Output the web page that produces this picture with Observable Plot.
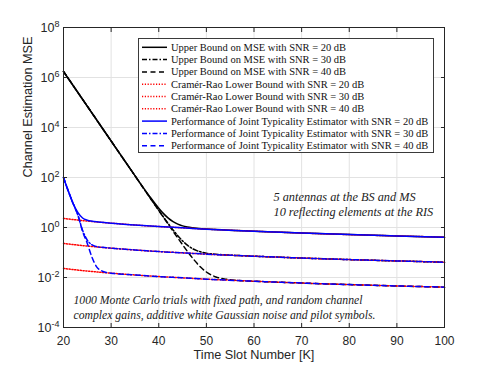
<!DOCTYPE html>
<html><head><meta charset="utf-8">
<script src="https://cdn.jsdelivr.net/npm/d3@7"></script>
<script src="https://cdn.jsdelivr.net/npm/@observablehq/plot@0.6"></script>
<style>body{margin:0;background:#fff;} svg{display:block}</style>
</head><body><div id="chart"></div>
<script>
// ---- data ----
const xTicks = [20, 30, 40, 50, 60, 70, 80, 90, 100];
const yTicks = [1e-4, 1e-2, 1e0, 1e2, 1e4, 1e6, 1e8];

const kUB = [20, 25, 30, 35, 38, 40, 41, 42, 43, 44, 45, 46, 47, 48, 49, 50, 52, 54, 56, 58, 60, 70, 80, 90, 100];
const ub20 = [1.74e6, 70800, 2884, 118.8, 18.4, 5.89, 3.59, 2.37, 1.715, 1.359, 1.161, 1.046, 0.976, 0.930, 0.897, 0.870, 0.829, 0.796, 0.764, 0.736, 0.710, 0.600, 0.520, 0.460, 0.410];
const ub30 = [1.74e6, 70800, 2884, 117.6, 17.3, 4.90, 2.63, 1.434, 0.802, 0.469, 0.292, 0.197, 0.146, 0.119, 0.1033, 0.0941, 0.0849, 0.0801, 0.0766, 0.0736, 0.0710, 0.0600, 0.0520, 0.0460, 0.0410];
const ub40 = [1.74e6, 70800, 2884, 117.5, 17.2, 4.80, 2.53, 1.34, 0.711, 0.380, 0.205, 0.1122, 0.0634, 0.0376, 0.0239, 0.0166, 0.0105, 0.0086, 0.0078, 0.0074, 0.0071, 0.0060, 0.0052, 0.0046, 0.0041];

const kCR = [20, 22, 24, 26, 28, 30, 35, 40, 45, 50, 60, 70, 80, 90, 100];
const crlb20 = [2.30, 2.08, 1.89, 1.74, 1.60, 1.49, 1.26, 1.09, 0.97, 0.86, 0.71, 0.60, 0.52, 0.46, 0.41];
const crlb30 = [0.230, 0.208, 0.189, 0.174, 0.160, 0.149, 0.126, 0.109, 0.097, 0.086, 0.071, 0.060, 0.052, 0.046, 0.041];
const crlb40 = [0.0230, 0.0208, 0.0189, 0.0174, 0.0160, 0.0149, 0.0126, 0.0109, 0.0097, 0.0086, 0.0071, 0.0060, 0.0052, 0.0046, 0.0041];

const kJT = [20, 21, 22, 23, 24, 25, 26, 27, 28, 29, 30, 35, 40, 45, 50, 60, 70, 80, 90, 100];
const jte20 = [100, 29, 9.3, 4.0, 2.4, 1.95, 1.78, 1.68, 1.61, 1.55, 1.49, 1.26, 1.09, 0.97, 0.86, 0.71, 0.60, 0.52, 0.46, 0.41];
const jte30 = [100, 29, 9.3, 3.2, 0.78, 0.31, 0.20, 0.172, 0.161, 0.155, 0.149, 0.126, 0.109, 0.097, 0.086, 0.071, 0.060, 0.052, 0.046, 0.041];
const jte40 = [100, 29, 9.3, 3.2, 0.70, 0.23, 0.063, 0.026, 0.0185, 0.0158, 0.0149, 0.0126, 0.0109, 0.0097, 0.0086, 0.0071, 0.0060, 0.0052, 0.0046, 0.0041];

const seriesNames = [
  "Upper Bound on MSE with SNR = 20 dB",
  "Upper Bound on MSE with SNR = 30 dB",
  "Upper Bound on MSE with SNR = 40 dB",
  "Cramér-Rao Lower Bound with SNR = 20 dB",
  "Cramér-Rao Lower Bound with SNR = 30 dB",
  "Cramér-Rao Lower Bound with SNR = 40 dB",
  "Performance of Joint Typicality Estimator with SNR = 20 dB",
  "Performance of Joint Typicality Estimator with SNR = 30 dB",
  "Performance of Joint Typicality Estimator with SNR = 40 dB"
];
const seriesK = [kUB, kUB, kUB, kCR, kCR, kCR, kJT, kJT, kJT];
const seriesV = [ub20, ub30, ub40, crlb20, crlb30, crlb40, jte20, jte30, jte40];
const seriesColor = ["#000000", "#000000", "#000000", "#ff0000", "#ff0000", "#ff0000", "#0000ff", "#0000ff", "#0000ff"];
const seriesDash = [null, "5,2,1.5,2", "5,3.5", "1.2,1.6", "1.2,1.6", "1.2,1.6", null, "5,2,1.5,2", "5,3.5"];

const xLabel = "Time Slot Number [K]";
const yLabel = "Channel Estimation MSE";
const note1 = "5 antennas at the BS and MS\n10 reflecting elements at the RIS";
const note2 = "1000 Monte Carlo trials with fixed path, and random channel\ncomplex gains, additive white Gaussian noise and pilot symbols.";

// ---- chart ----
const serif = "'Liberation Serif', 'Times New Roman', serif";
const sans = "'Liberation Sans', Arial, Helvetica, sans-serif";
const zip = (ks, vs) => ks.map((k, i) => ({k, v: vs[i]}));

const chart = Plot.plot({
  width: 491,
  height: 368,
  marginLeft: 63,
  marginRight: 47,
  marginTop: 27,
  marginBottom: 41,
  style: {fontFamily: sans, fontSize: "12px", color: "#262626", background: "#fff"},
  x: {domain: [20, 100]},
  y: {type: "log", domain: [1e-4, 1e8]},
  marks: [
    Plot.gridX(xTicks, {stroke: "#e2e2e2", strokeOpacity: 1}),
    Plot.gridY(yTicks, {stroke: "#e2e2e2", strokeOpacity: 1}),
    ...seriesNames.map((n, i) => Plot.line(zip(seriesK[i], seriesV[i]), {
      x: "k", y: "v", stroke: seriesColor[i], strokeWidth: 1.5,
      strokeDasharray: seriesDash[i], curve: "monotone-x"
    })),
    Plot.text([note1], {frameAnchor: "top-left", dx: 210, dy: 176, textAnchor: "start", lineAnchor: "middle",
      lineHeight: 1.2, fontFamily: serif, fontStyle: "italic", fontSize: 12.3, fill: "#222"}),
    Plot.text([note2], {frameAnchor: "top-left", dx: 10, dy: 279, textAnchor: "start", lineAnchor: "middle",
      lineHeight: 1.28, fontFamily: serif, fontStyle: "italic", fontSize: 11.7, fill: "#222"}),
    Plot.axisX(xTicks, {anchor: "bottom", tickSize: 0, tickPadding: 9, fontSize: 12, label: null}),
    Plot.axisY(yTicks, {anchor: "left", tickSize: 0, tickPadding: 4, fontSize: 12.5, label: null,
      tickFormat: d => "10^" + Math.round(Math.log10(d))}),
    Plot.axisX(xTicks, {anchor: "bottom", tickSize: -4, tickFormat: () => "", label: null}),
    Plot.axisX(xTicks, {anchor: "top", tickSize: -4, tickFormat: () => "", label: null}),
    Plot.axisY(yTicks, {anchor: "left", tickSize: -4, tickFormat: () => "", label: null}),
    Plot.axisY(yTicks, {anchor: "right", tickSize: -4, tickFormat: () => "", label: null}),
    Plot.frame({stroke: "#262626", strokeWidth: 1}),
    Plot.text([xLabel], {frameAnchor: "bottom", dy: 31, fontSize: 12.7, fill: "#262626"}),
    Plot.text([yLabel], {frameAnchor: "left", dx: -36, rotate: -90, fontSize: 12.7, fill: "#262626"})
  ]
});

// superscript exponents on y tick labels
d3.select(chart).selectAll('g[aria-label="y-axis tick label"] text').each(function () {
  const m = this.textContent.match(/^10\^(.*)$/);
  if (!m) return;
  const s = d3.select(this);
  s.text(null);
  s.append("tspan").text("10");
  s.append("tspan").attr("dy", "-0.5em").attr("font-size", "0.72em").text(m[1]);
});

// legend (inside the axes, top right)
const lg = d3.select(chart).append("g").attr("font-family", serif).attr("font-size", 10.5)
  .attr("text-anchor", "start");
lg.append("rect").attr("x", 138.5).attr("y", 38.5).attr("width", 295).attr("height", 114)
  .attr("fill", "#fff").attr("stroke", "#3a3a3a").attr("stroke-width", 1);
seriesNames.forEach((n, i) => {
  const y = 47.3 + 12.3 * i;
  lg.append("line").attr("x1", 142).attr("x2", 167).attr("y1", y).attr("y2", y)
    .attr("stroke", seriesColor[i]).attr("stroke-width", 1.5)
    .attr("stroke-dasharray", seriesDash[i]);
  lg.append("text").attr("x", 171).attr("y", y).attr("dy", "0.33em").attr("text-anchor", "start")
    .attr("fill", "#111").text(n);
});

document.getElementById("chart").appendChild(chart);
</script>
</body></html>
